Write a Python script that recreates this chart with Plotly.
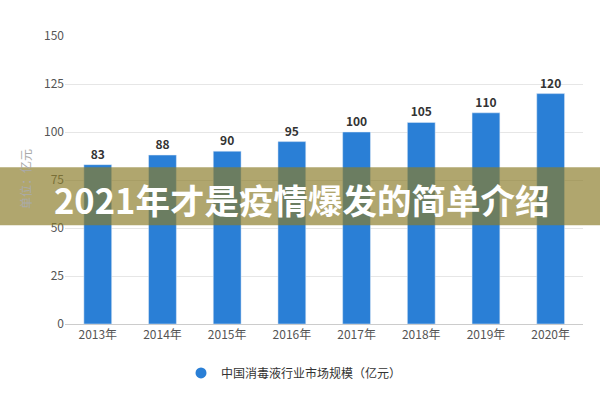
import plotly.graph_objects as go

years = ["2013年", "2014年", "2015年", "2016年", "2017年", "2018年", "2019年", "2020年"]
values = [83, 88, 90, 95, 100, 105, 110, 120]
series_name = "中国消毒液行业市场规模（亿元）"
y_title = "单位：亿元"
banner_text = "2021年才是疫情爆发的简单介绍"

BLUE = "#2a7fd6"
FONT = "Noto Sans CJK SC"

fig = go.Figure()
fig.add_trace(go.Bar(
    x=years, y=values, marker_color=BLUE, showlegend=False,
    text=[str(v) for v in values], textposition="outside",
    textfont=dict(family=FONT, size=12, color="#333333", weight="bold"),
    cliponaxis=False,
))
fig.add_trace(go.Scatter(
    x=[years[0]], y=[None], mode="markers", name=series_name,
    marker=dict(symbol="circle", size=11, color=BLUE),
))

fig.update_layout(
    width=600, height=400,
    margin=dict(l=65, r=17, t=36, b=72),
    paper_bgcolor="white", plot_bgcolor="white",
    bargap=0.57,
    font=dict(family=FONT, color="#555555"),
    legend=dict(orientation="h", x=(294 - 65) / 518, xanchor="center", y=-0.17, yanchor="middle",
                font=dict(family=FONT, size=12, color="#333333"), itemwidth=30),
    xaxis=dict(showgrid=False, showline=True, linecolor="#cccccc", linewidth=1,
               tickfont=dict(family=FONT, size=12, color="#555555"), ticks=""),
    yaxis=dict(range=[0, 150], tickvals=[0, 25, 50, 75, 100, 125, 150],
               gridcolor="#e6e6e6", zeroline=False,
               tickfont=dict(family=FONT, size=12, color="#555555")),
)

# y-axis unit title
fig.add_annotation(text=y_title, xref="paper", yref="paper",
                   x=-40 / 518, y=(328 - 181) / 292, textangle=-90, showarrow=False,
                   font=dict(family=FONT, size=12, color="#aaaaaa"), xanchor="center", yanchor="middle")

# banner band
fig.add_shape(type="rect", xref="paper", yref="paper",
              x0=-65 / 518, x1=(600 - 65) / 518,
              y0=(328 - 228) / 292, y1=(328 - 169) / 292,
              fillcolor="rgba(139,124,42,0.68)", line_width=0, layer="above")
fig.add_annotation(text=banner_text, xref="paper", yref="paper",
                   x=(301 - 65) / 518, y=(328 - 201) / 292, showarrow=False,
                   font=dict(family=FONT, size=34.5, color="white", weight="bold"),
                   xanchor="center", yanchor="middle")

fig.write_html("out.html")
